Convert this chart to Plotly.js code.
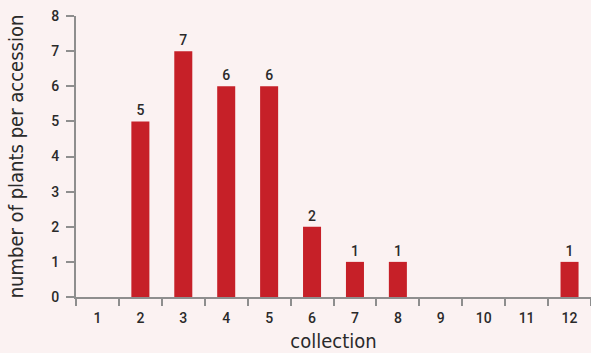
<!DOCTYPE html>
<html>
<head>
<meta charset="utf-8">
<script src="https://cdn.plot.ly/plotly-3.0.1.min.js"></script>
<style>
  html, body { margin: 0; padding: 0; background: #fbf2f2; }
  #chart { width: 591px; height: 353px; }
</style>
</head>
<body>
<div id="chart"></div>
<script>
// Plants per accession, by collection
const collections = ['1', '2', '3', '4', '5', '6', '7', '8', '9', '10', '11', '12'];
const plantsPerAccession = [0, 5, 7, 6, 6, 2, 1, 1, 0, 0, 0, 1];
const barLabels = ['', '5', '7', '6', '6', '2', '1', '1', '', '', '', '1'];
const yTicks = [0, 1, 2, 3, 4, 5, 6, 7, 8];

const axisGrey = '#8e8e8e';
const textDark = '#2a2a2a';
const numberFont = 'Roboto, Liberation Sans, Arial, sans-serif';
const titleFont = 'Liberation Sans Narrow, DejaVu Sans Condensed, sans-serif';

const trace = {
  type: 'bar',
  x: collections,
  y: plantsPerAccession,
  text: barLabels,
  textposition: 'outside',
  cliponaxis: false,
  textfont: { family: numberFont, size: 14, weight: 500, color: textDark },
  marker: { color: '#c62028', line: { width: 0 } },
  hoverinfo: 'skip'
};

const layout = {
  width: 591,
  height: 353,
  margin: { l: 76, r: 0, t: 16, b: 56 },
  paper_bgcolor: '#fbf2f2',
  plot_bgcolor: '#fbf2f2',
  bargap: 0.58,
  showlegend: false,
  font: { family: numberFont, size: 14, color: textDark },
  xaxis: {
    type: 'category',
    tickson: 'boundaries',
    ticks: 'outside',
    ticklen: 7,
    tickwidth: 2,
    tickcolor: axisGrey,
    ticklabelstandoff: 7,
    showline: true,
    linecolor: axisGrey,
    linewidth: 2,
    showgrid: false,
    zeroline: false,
    tickfont: { family: numberFont, size: 14, weight: 500, color: textDark },
    title: {
      text: 'collection',
      font: { family: titleFont, size: 20, color: textDark },
      standoff: 10
    }
  },
  yaxis: {
    range: [0, 8],
    tickvals: yTicks,
    ticks: 'outside',
    ticklen: 8,
    tickwidth: 2,
    tickcolor: axisGrey,
    ticklabelstandoff: 4,
    showline: true,
    linecolor: axisGrey,
    linewidth: 2,
    showgrid: false,
    zeroline: false,
    tickfont: { family: numberFont, size: 14, weight: 500, color: textDark },
    title: {
      text: 'number of plants per accession',
      font: { family: titleFont, size: 20, color: textDark },
      standoff: 22
    }
  }
};

Plotly.newPlot('chart', [trace], layout, { displayModeBar: false, staticPlot: true });
</script>
</body>
</html>
